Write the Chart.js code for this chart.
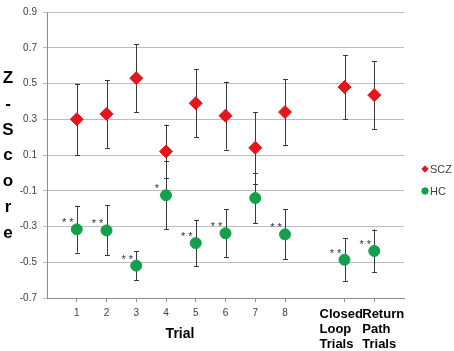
<!DOCTYPE html>
<html><head><meta charset="utf-8">
<script src="https://cdn.jsdelivr.net/npm/chart.js@4.4.1/dist/chart.umd.min.js"></script>
<style>html,body{margin:0;padding:0;background:#fff;overflow:hidden}#wrap{position:relative;width:454px;height:351px}</style>
</head><body><div id="wrap"><canvas id="c" width="454" height="351"></canvas></div>
<script>
// ---- data ----
const trialPositions = [1, 2, 3, 4, 5, 6, 7, 8, 10, 11];
const trialLabels = ['1', '2', '3', '4', '5', '6', '7', '8', ['Closed', 'Loop', 'Trials'], ['Return', 'Path', 'Trials']];
const sczMeans  = [0.30, 0.33, 0.53, 0.12, 0.39, 0.32, 0.14, 0.34, 0.48, 0.435];
const sczErrors = [0.20, 0.19, 0.19, 0.15, 0.19, 0.19, 0.20, 0.185, 0.18, 0.19];
const hcMeans   = [-0.316, -0.322, -0.519, -0.125, -0.393, -0.338, -0.141, -0.344, -0.486, -0.437];
const hcErrors  = [0.13, 0.14, 0.08, 0.19, 0.13, 0.135, 0.14, 0.14, 0.12, 0.12];
const hcStars   = ['**', '**', '**', '*', '**', '**', '', '**', '**', '**'];
const yTicks = [-0.7, -0.5, -0.3, -0.1, 0.1, 0.3, 0.5, 0.7, 0.9];
const yTitle = ['Z', '-', 'S', 'c', 'o', 'r', 'e'];
const xTitle = 'Trial';
const seriesNames = ['SCZ', 'HC'];
const colors = ['#e6141b', '#13a04c'];

const sczPoints = trialPositions.map((x, i) => ({x: x, y: sczMeans[i]}));
const hcPoints = trialPositions.map((x, i) => ({x: x, y: hcMeans[i]}));

const overlay = {
  id: 'overlay',
  beforeDatasetsDraw(chart) {
    const ctx = chart.ctx, xs = chart.scales.x, ys = chart.scales.y;
    ctx.save();
    ctx.strokeStyle = '#3a3a3a';
    ctx.lineWidth = 1;
    const bars = [[sczMeans, sczErrors], [hcMeans, hcErrors]];
    bars.forEach(([m, e]) => {
      trialPositions.forEach((x, i) => {
        const px = Math.round(xs.getPixelForValue(x)) + 0.5;
        const y1 = ys.getPixelForValue(m[i] + e[i]);
        const y2 = ys.getPixelForValue(m[i] - e[i]);
        ctx.beginPath();
        ctx.moveTo(px, y1); ctx.lineTo(px, y2);
        ctx.moveTo(px - 2.5, Math.round(y1) + 0.5); ctx.lineTo(px + 2.5, Math.round(y1) + 0.5);
        ctx.moveTo(px - 2.5, Math.round(y2) + 0.5); ctx.lineTo(px + 2.5, Math.round(y2) + 0.5);
        ctx.stroke();
      });
    });
    ctx.restore();
  },
  afterDraw(chart) {
    const ctx = chart.ctx, xs = chart.scales.x, ys = chart.scales.y;
    ctx.save();
    // stars
    ctx.fillStyle = '#333';
    ctx.font = '11px "Liberation Sans", Arial, sans-serif';
    ctx.textAlign = 'center';
    ctx.textBaseline = 'alphabetic';
    trialPositions.forEach((x, i) => {
      if (!hcStars[i]) return;
      const px = xs.getPixelForValue(x), py = ys.getPixelForValue(hcMeans[i]);
      ctx.fillText(hcStars[i].split('').join(' '), px - 9, py - 3);
    });
    // multi-line category labels
    ctx.fillStyle = '#000';
    ctx.font = 'bold 13px "Liberation Sans", Arial, sans-serif';
    ctx.textAlign = 'left';
    trialLabels.forEach((lab, i) => {
      if (!Array.isArray(lab)) return;
      const px = xs.getPixelForValue(trialPositions[i]);
      const left = i === 8 ? px - 25 : px - 12;
      lab.forEach((line, k) => ctx.fillText(line, left, 318 + k * 15));
    });
    // x title
    ctx.font = 'bold 14px "Liberation Sans", Arial, sans-serif';
    ctx.textAlign = 'center';
    ctx.fillText(xTitle, 180, 338);
    // y title, stacked letters
    ctx.font = 'bold 17px "Liberation Sans", Arial, sans-serif';
    yTitle.forEach((ch, k) => ctx.fillText(ch, 8, 83 + k * 25.8));
    // legend
    ctx.font = '11px "Liberation Sans", Arial, sans-serif';
    ctx.textAlign = 'left';
    ctx.textBaseline = 'middle';
    const styles = ['rectRot', 'circle'];
    seriesNames.forEach((name, k) => {
      const ly = 169 + k * 22;
      ctx.fillStyle = colors[k];
      ctx.strokeStyle = colors[k];
      Chart.helpers.drawPoint(ctx, {pointStyle: styles[k], radius: 3.2, borderWidth: 1, rotation: 0}, 425, ly);
      ctx.fillStyle = '#404040';
      ctx.fillText(name, 430, ly + 1);
    });
    ctx.restore();
  }
};

new Chart(document.getElementById('c'), {
  type: 'scatter',
  data: {
    datasets: [
      {label: seriesNames[0], data: sczPoints, pointStyle: 'rectRot', pointRadius: 6.5, pointHoverRadius: 6.5,
       backgroundColor: colors[0], borderColor: colors[0], borderWidth: 1},
      {label: seriesNames[1], data: hcPoints, pointStyle: 'circle', pointRadius: 5.5, pointHoverRadius: 5.5,
       backgroundColor: colors[1], borderColor: colors[1], borderWidth: 1}
    ]
  },
  options: {
    responsive: false,
    animation: false,
    events: [],
    layout: {padding: {left: 0, top: 6, right: 50, bottom: 0}},
    plugins: {legend: {display: false}, tooltip: {enabled: false}},
    scales: {
      x: {
        type: 'linear', min: 0, max: 12,
        afterBuildTicks(s) { s.ticks = trialPositions.map(v => ({value: v})); },
        afterFit(s) { s.height = 53; },
        ticks: {
          autoSkip: false, padding: 5, maxRotation: 0,
          color: '#404040', font: {family: '"Liberation Sans", Arial, sans-serif', size: 10},
          callback(v) { const i = trialPositions.indexOf(v); const l = trialLabels[i]; return Array.isArray(l) ? '' : l; }
        },
        grid: {drawOnChartArea: false, drawTicks: true, tickLength: 4, color: '#8c8c8c'},
        border: {display: true, color: '#8c8c8c'}
      },
      y: {
        min: -0.7, max: 0.9,
        afterBuildTicks(s) { s.ticks = yTicks.map(v => ({value: v})); },
        afterFit(s) { s.width = 47; },
        ticks: {
          padding: 6, color: '#404040', font: {family: '"Liberation Sans", Arial, sans-serif', size: 10},
          callback(v) { return v.toFixed(1); }
        },
        grid: {color: '#bdbdbd', tickLength: 4},
        border: {display: true, color: '#8c8c8c'}
      }
    }
  },
  plugins: [overlay]
});
</script></body></html>
